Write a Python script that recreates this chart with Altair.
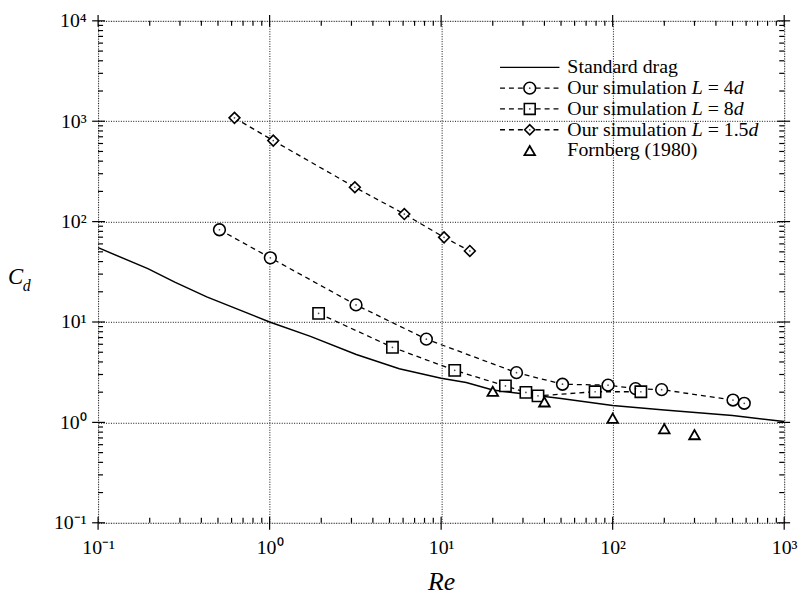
import altair as alt
import pandas as pd

# ---------------- data ----------------
std_re = [0.1, 0.195, 0.28, 0.43, 1.0, 1.73, 3.2, 5.7, 10, 14, 20, 50, 100, 200, 500, 1000]
std_cd = [55, 34, 25, 17.8, 10, 7.2, 4.74, 3.43, 2.75, 2.5, 2.1, 1.73, 1.47, 1.33, 1.17, 1.02]

l4_re = [0.51, 1.01, 3.19, 8.2, 27.5, 51, 94, 136, 193, 503, 585]
l4_cd = [83, 43.6, 14.8, 6.75, 3.13, 2.4, 2.35, 2.17, 2.12, 1.67, 1.55]

l8_re = [1.93, 5.2, 12.0, 23.7, 31.2, 36.7, 79, 146]
l8_cd = [12.2, 5.6, 3.3, 2.31, 1.99, 1.84, 2.02, 2.02]

l15_re = [0.624, 1.05, 3.14, 6.1, 10.4, 14.7]
l15_cd = [1081, 641, 220, 119, 69.7, 51]

forn_re = [20, 40, 100, 200, 300]
forn_cd = [2.04, 1.6, 1.1, 0.865, 0.755]

major_x = [0.1, 1, 10, 100, 1000]
major_y = [0.1, 1, 10, 100, 1000, 10000]
minor_x = [m * 10.0 ** e for e in range(-1, 3) for m in range(2, 10)]
minor_y = [m * 10.0 ** e for e in range(-1, 4) for m in range(2, 10)]

W, H = 693, 507
FONT = "Liberation Serif, Times New Roman, Times, serif"

std_df = pd.DataFrame({"re": std_re, "cd": std_cd})
sim_df = pd.concat([
    pd.DataFrame({"re": l4_re, "cd": l4_cd, "series": "L4"}),
    pd.DataFrame({"re": l8_re, "cd": l8_cd, "series": "L8"}),
    pd.DataFrame({"re": l15_re, "cd": l15_cd, "series": "L15"}),
])
forn_df = pd.DataFrame({"re": forn_re, "cd": forn_cd})

label_expr = "'10' + ['\u207b\u00b9','\u2070','\u00b9','\u00b2','\u00b3','\u2074'][round(log(datum.value)/LN10)+1]"

xscale = alt.Scale(type="log", domain=[0.1, 1000], nice=False)
yscale = alt.Scale(type="log", domain=[0.1, 10000], nice=False)

xaxis = alt.Axis(values=major_x, labelExpr=label_expr, ticks=False, domain=False,
                 grid=True, gridDash=[1, 1.5], gridColor="#111", gridWidth=1,
                 labelFont=FONT, labelFontSize=20, labelColor="black", labelPadding=15,
                 labelFlush=False, labelOverlap=False,
                 title="Re", titleFont=FONT, titleFontStyle="italic", titleFontSize=26,
                 titleFontWeight="normal", titleColor="black", titlePadding=11)
yaxis = alt.Axis(values=major_y, labelExpr=label_expr, ticks=False, domain=False,
                 grid=True, gridDash=[1, 1.5], gridColor="#111", gridWidth=1,
                 labelFont=FONT, labelFontSize=20, labelColor="black", labelPadding=12,
                 labelFlush=False, labelOverlap=False, title="")

X = alt.X("re:Q", scale=xscale, axis=xaxis)
Y = alt.Y("cd:Q", scale=yscale, axis=yaxis)

layers = []

# standard drag
layers.append(alt.Chart(std_df).mark_line(color="black", strokeWidth=1.5).encode(x=X, y=Y))

# simulation dashed lines
layers.append(alt.Chart(sim_df).mark_line(color="black", strokeWidth=1.3, strokeDash=[5, 4])
              .encode(x=X, y=Y, detail="series:N"))

shape_scale = alt.Scale(domain=["L4", "L8", "L15"], range=["circle", "square", "diamond"])
size_scale = alt.Scale(domain=["L4", "L8", "L15"], range=[140, 120, 105])
layers.append(alt.Chart(sim_df).mark_point(filled=True, fill="white", stroke="black",
                                           strokeWidth=1.6, opacity=1)
              .encode(x=X, y=Y,
                      shape=alt.Shape("series:N", scale=shape_scale, legend=None),
                      size=alt.Size("series:N", scale=size_scale, legend=None)))
layers.append(alt.Chart(sim_df).mark_point(filled=True, color="black", size=3, shape="circle")
              .encode(x=X, y=Y))

# Fornberg
layers.append(alt.Chart(forn_df).mark_point(shape="triangle-up", filled=True, fill="white",
                                            stroke="black", strokeWidth=1.8, size=115, opacity=1)
              .encode(x=X, y=Y))

# ---------- inward ticks on all four sides ----------
mxd = pd.DataFrame({"re": minor_x})
Mxd = pd.DataFrame({"re": major_x})
myd = pd.DataFrame({"cd": minor_y})
Myd = pd.DataFrame({"cd": major_y})
tick = dict(color="black", strokeWidth=1.2)
layers += [
    alt.Chart(mxd).mark_rule(**tick).encode(x=X, y=alt.value(H), y2=alt.value(H - 5)),
    alt.Chart(mxd).mark_rule(**tick).encode(x=X, y=alt.value(0), y2=alt.value(5)),
    alt.Chart(Mxd).mark_rule(**tick).encode(x=X, y=alt.value(H - 6), y2=alt.value(H + 7)),
    alt.Chart(Mxd).mark_rule(**tick).encode(x=X, y=alt.value(-6), y2=alt.value(6)),
    alt.Chart(myd).mark_rule(**tick).encode(y=Y, x=alt.value(0), x2=alt.value(5)),
    alt.Chart(myd).mark_rule(**tick).encode(y=Y, x=alt.value(W), x2=alt.value(W - 5)),
    alt.Chart(Myd).mark_rule(**tick).encode(y=Y, x=alt.value(-6), x2=alt.value(7)),
    alt.Chart(Myd).mark_rule(**tick).encode(y=Y, x=alt.value(W - 7), x2=alt.value(W + 6)),
]

# ---------- y axis title C_d ----------
dummy = alt.Data(values=[{}])
layers.append(alt.Chart(dummy).mark_text(text="C", font=FONT, fontStyle="italic", fontSize=23,
                                         align="left", baseline="middle", color="black")
              .encode(x=alt.value(-91), y=alt.value(259)))
layers.append(alt.Chart(dummy).mark_text(text="d", font=FONT, fontStyle="italic", fontSize=16,
                                         align="left", baseline="middle", color="black")
              .encode(x=alt.value(-76), y=alt.value(268)))

# ---------- legend ----------
FS = 20
LX0, LX1, LSYM, LTXT = 406, 466, 436, 474
rows_y = [47, 68, 89, 110, 131]
# approx. Times advance widths (em) for placing mixed-style segments
W_OUR = 6.278 * FS   # "Our simulation "
W_L = 0.556 * FS     # italic "L"
W_SP = 0.25 * FS
W_EQ = 0.564 * FS


def txt(t, x, y, italic=False):
    return alt.Chart(dummy).mark_text(text=t, font=FONT, fontSize=FS,
                                      fontStyle="italic" if italic else "normal",
                                      align="left", baseline="middle", color="black"
                                      ).encode(x=alt.value(x), y=alt.value(y))


# Standard drag
layers.append(alt.Chart(dummy).mark_rule(color="black", strokeWidth=1.5)
              .encode(x=alt.value(LX0), x2=alt.value(LX1), y=alt.value(rows_y[0])))
layers.append(txt("Standard drag", LTXT, rows_y[0]))

for (num, shp, sz), yy in zip([("4", "circle", 140), ("8", "square", 120), ("1.5", "diamond", 105)],
                               rows_y[1:4]):
    layers.append(alt.Chart(dummy).mark_rule(color="black", strokeWidth=1.3, strokeDash=[5, 4])
                  .encode(x=alt.value(LX0), x2=alt.value(LX1), y=alt.value(yy)))
    layers.append(alt.Chart(dummy).mark_point(shape=shp, size=sz, filled=True, fill="white",
                                              stroke="black", strokeWidth=1.6, opacity=1)
                  .encode(x=alt.value(LSYM), y=alt.value(yy)))
    layers.append(alt.Chart(dummy).mark_point(shape="circle", size=3, filled=True, color="black")
                  .encode(x=alt.value(LSYM), y=alt.value(yy)))
    layers.append(txt("Our simulation", LTXT, yy))
    xl = LTXT + W_OUR
    layers.append(txt("L", xl, yy, italic=True))
    xe = xl + W_L + W_SP
    eq = "= " + num
    layers.append(txt(eq, xe, yy))
    w_num = {"4": 0.5, "8": 0.5, "1.5": 1.25}[num] * FS
    layers.append(txt("d", xe + W_EQ + W_SP + w_num, yy, italic=True))

layers.append(alt.Chart(dummy).mark_point(shape="triangle-up", size=115, filled=True, fill="white",
                                          stroke="black", strokeWidth=1.8, opacity=1)
              .encode(x=alt.value(LSYM), y=alt.value(rows_y[4])))
layers.append(txt("Fornberg (1980)", LTXT, rows_y[4]))

chart = alt.layer(*layers).properties(
    width=W, height=H,
    autosize="none",
    padding={"left": 91, "top": 10, "right": 19, "bottom": 73},
).configure_view(stroke="black", strokeWidth=1.5).configure(background="white")

chart.save("out.html", embed_options={"renderer": "svg", "actions": False})
